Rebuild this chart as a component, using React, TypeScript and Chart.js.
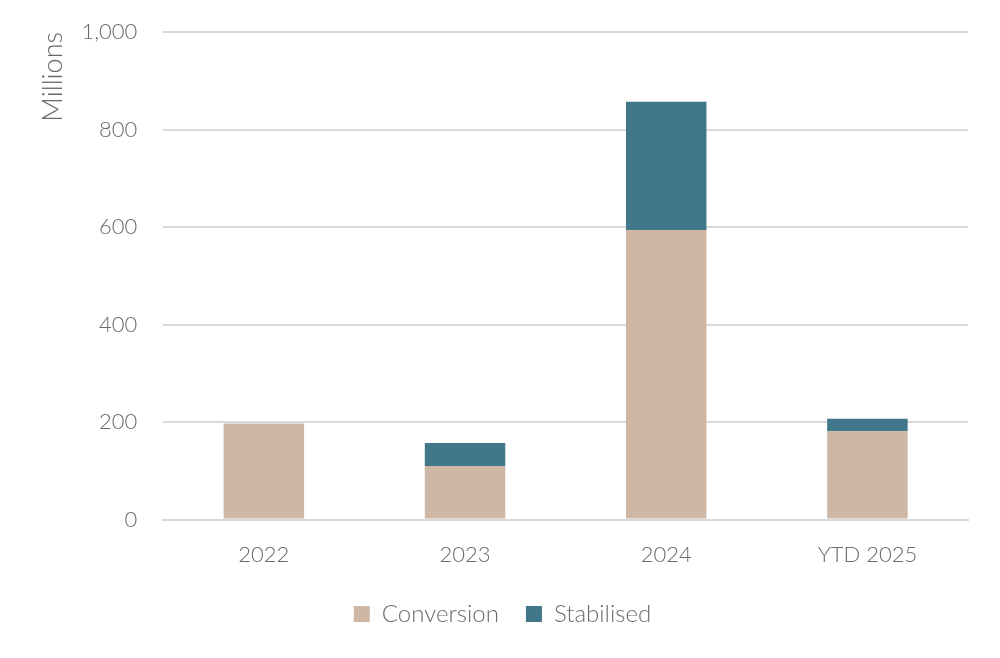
import React, { useEffect, useRef } from "react";
import { Chart, registerables } from "chart.js";

Chart.register(...registerables);

const categories = ["2022", "2023", "2024", "YTD 2025"];
const conversion = [197, 110, 594, 181];
const stabilised = [0, 47, 263, 26];
const yTicks = [0, 200, 400, 600, 800, 1000];

const FONT = "Lato";
const TEXT = "#6a6a6a";

export default function App() {
  const ref = useRef<HTMLCanvasElement | null>(null);
  useEffect(() => {
    document.body.style.margin = "0";
    const ctx = ref.current!;
    const chart = new Chart(ctx, {
      type: "bar",
      data: {
        labels: categories,
        datasets: [
          { label: "Conversion", data: conversion, backgroundColor: "#CFB7A5", barPercentage: 0.4, categoryPercentage: 1 },
          { label: "Stabilised", data: stabilised, backgroundColor: "#40788A", barPercentage: 0.4, categoryPercentage: 1 },
        ],
      },
      options: {
        animation: false,
        responsive: false,
        layout: { autoPadding: false, padding: { top: 32, right: 32, left: 37, bottom: 22 } },
        plugins: {
          legend: {
            position: "bottom",
            labels: {
              boxWidth: 16,
              boxHeight: 16,
              color: TEXT,
              font: { family: FONT, size: 24, weight: "300" },
              padding: 27,
            },
          },
          tooltip: { enabled: false },
        },
        scales: {
          x: {
            stacked: true,
            grid: { display: false, drawTicks: false },
            border: { display: true, color: "#d9d9d9", width: 2 },
            ticks: { color: TEXT, font: { family: FONT, size: 22, weight: "300" }, padding: 22 },
            afterFit: (scale: any) => {
              scale.height = scale.height - 15;
            },
          },
          y: {
            stacked: true,
            min: 0,
            max: 1000,
            afterBuildTicks: (axis: any) => {
              axis.ticks = yTicks.map((v) => ({ value: v }));
            },
            afterFit: (scale: any) => {
              scale.paddingTop = 0;
              scale.paddingBottom = 0;
            },
            grid: { color: "#d9d9d9", lineWidth: 2, drawTicks: false },
            border: { display: false },
            ticks: {
              color: TEXT,
              font: { family: FONT, size: 22, weight: "300" },
              padding: 26,
              callback: (v: any) => Number(v).toLocaleString("en-US"),
            },
            title: {
              display: true,
              text: "Millions",
              align: "end",
              color: TEXT,
              font: { family: FONT, size: 27, weight: "300" },
              padding: { top: 0, bottom: -14 },
            },
          },
        },
      },
    });
    return () => chart.destroy();
  }, []);
  return (
    <div style={{ width: 1000, height: 658, background: "#fff" }}>
      <canvas ref={ref} width={1000} height={658} style={{ display: "block" }} />
    </div>
  );
}
